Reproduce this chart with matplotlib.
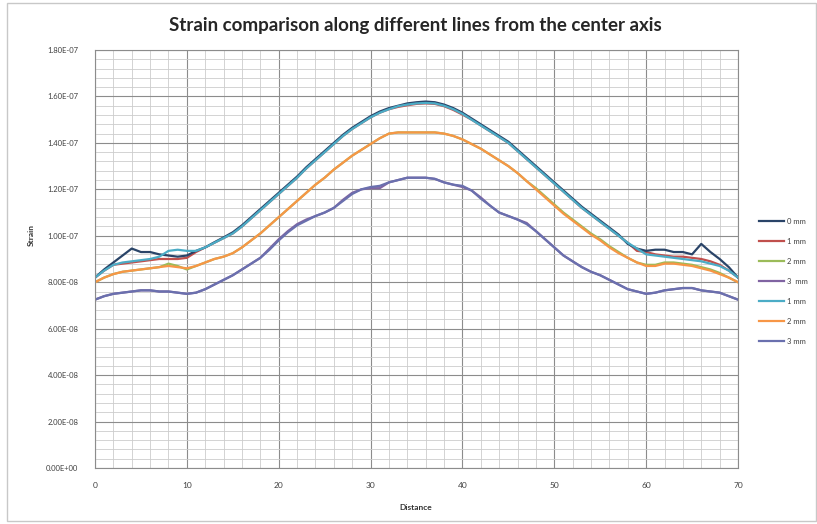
import numpy as np
import matplotlib
matplotlib.use("Agg")
import matplotlib.pyplot as plt
from matplotlib.ticker import MultipleLocator, FuncFormatter
from matplotlib.patches import Rectangle

plt.rcParams['font.family'] = ['Lato', 'DejaVu Sans']

# ---- data (strain values in units of 1e-8) ----
distance = list(range(0, 71))

s0mm = [8.2, 8.55, 8.85, 9.15, 9.45, 9.3, 9.3, 9.2, 9.15, 9.1, 9.15, 9.35, 9.5, 9.72, 9.93, 10.15,
        10.45, 10.8, 11.15, 11.5, 11.85, 12.2, 12.55, 12.95, 13.3, 13.65, 14.0, 14.35, 14.65, 14.9,
        15.15, 15.35, 15.5, 15.6, 15.7, 15.75, 15.78, 15.75, 15.65, 15.5, 15.3, 15.05, 14.8,
        14.55, 14.3, 14.05, 13.7, 13.35, 13.0, 12.65, 12.3, 11.95, 11.6, 11.25, 10.95, 10.65, 10.35,
        10.05, 9.65, 9.45, 9.35, 9.4, 9.4, 9.3, 9.3, 9.2, 9.65, 9.3, 9.0, 8.65, 8.2]
s1mm_a = [8.2, 8.5, 8.75, 8.8, 8.85, 8.9, 8.95, 9.0, 9.0, 9.0, 9.05, 9.3, 9.5, 9.7, 9.9, 10.1,
          10.4, 10.75, 11.1, 11.45, 11.8, 12.15, 12.5, 12.9, 13.25, 13.6, 13.95, 14.3, 14.6, 14.85,
          15.1, 15.3, 15.45, 15.55, 15.62, 15.68, 15.7, 15.68, 15.58, 15.42, 15.22, 15.0, 14.75,
          14.5, 14.25, 14.0, 13.65, 13.3, 12.95, 12.6, 12.25, 11.9, 11.55, 11.2, 10.9, 10.6, 10.3,
          10.0, 9.7, 9.35, 9.3, 9.2, 9.15, 9.1, 9.1, 9.05, 9.0, 8.9, 8.75, 8.5, 8.2]
s2mm_a = [8.0, 8.2, 8.35, 8.45, 8.5, 8.55, 8.6, 8.65, 8.8, 8.7, 8.55, 8.7, 8.85, 9.0, 9.1, 9.25,
          9.5, 9.8, 10.1, 10.45, 10.8, 11.15, 11.5, 11.85, 12.2, 12.5, 12.85, 13.15, 13.45, 13.7,
          13.95, 14.2, 14.4, 14.45, 14.45, 14.45, 14.45, 14.45, 14.4, 14.3, 14.15, 13.95, 13.75,
          13.5, 13.25, 13.0, 12.7, 12.35, 12.05, 11.7, 11.35, 11.0, 10.7, 10.4, 10.1, 9.85, 9.55,
          9.3, 9.05, 8.85, 8.75, 8.75, 8.85, 8.85, 8.8, 8.75, 8.65, 8.55, 8.4, 8.2, 8.0]
s3mm_a = [7.25, 7.4, 7.5, 7.55, 7.6, 7.65, 7.65, 7.6, 7.6, 7.55, 7.5, 7.55, 7.7, 7.9, 8.1, 8.3,
          8.55, 8.8, 9.05, 9.45, 9.85, 10.2, 10.5, 10.7, 10.85, 11.0, 11.2, 11.55, 11.85, 12.0,
          12.05, 12.05, 12.3, 12.4, 12.5, 12.5, 12.5, 12.45, 12.3, 12.2, 12.1, 11.95, 11.65, 11.3,
          11.0, 10.85, 10.7, 10.55, 10.2, 9.85, 9.5, 9.15, 8.9, 8.65, 8.45, 8.3, 8.1, 7.9, 7.7,
          7.6, 7.5, 7.55, 7.65, 7.7, 7.75, 7.75, 7.65, 7.6, 7.55, 7.4, 7.25]
s1mm_b = [8.2, 8.5, 8.75, 8.85, 8.9, 8.95, 9.0, 9.1, 9.35, 9.4, 9.35, 9.35, 9.5, 9.7, 9.9, 10.1,
          10.4, 10.75, 11.1, 11.45, 11.8, 12.15, 12.5, 12.9, 13.25, 13.6, 13.95, 14.3, 14.6, 14.85,
          15.1, 15.3, 15.45, 15.58, 15.65, 15.7, 15.72, 15.7, 15.6, 15.45, 15.25, 15.0, 14.75,
          14.5, 14.25, 14.0, 13.65, 13.3, 12.95, 12.6, 12.25, 11.9, 11.55, 11.2, 10.9, 10.6, 10.3,
          10.0, 9.7, 9.45, 9.2, 9.15, 9.1, 9.05, 9.0, 8.95, 8.9, 8.8, 8.7, 8.5, 8.2]
s2mm_b = [8.0, 8.2, 8.35, 8.45, 8.5, 8.55, 8.6, 8.65, 8.7, 8.65, 8.6, 8.7, 8.85, 9.0, 9.1, 9.25,
          9.5, 9.8, 10.1, 10.45, 10.8, 11.15, 11.5, 11.85, 12.2, 12.5, 12.85, 13.15, 13.45, 13.7,
          13.95, 14.2, 14.4, 14.45, 14.45, 14.45, 14.45, 14.45, 14.4, 14.3, 14.15, 13.95, 13.75,
          13.5, 13.25, 13.0, 12.7, 12.35, 12.0, 11.65, 11.3, 10.95, 10.65, 10.35, 10.05, 9.8, 9.5,
          9.25, 9.05, 8.85, 8.7, 8.7, 8.8, 8.8, 8.75, 8.7, 8.6, 8.5, 8.35, 8.2, 8.0]
s3mm_b = [7.25, 7.4, 7.5, 7.55, 7.6, 7.65, 7.65, 7.6, 7.6, 7.55, 7.5, 7.55, 7.7, 7.9, 8.1, 8.3,
          8.55, 8.8, 9.05, 9.4, 9.8, 10.15, 10.45, 10.65, 10.85, 11.0, 11.2, 11.5, 11.8, 12.0,
          12.1, 12.15, 12.3, 12.4, 12.5, 12.5, 12.5, 12.45, 12.3, 12.2, 12.15, 11.95, 11.6, 11.3,
          11.0, 10.85, 10.7, 10.5, 10.2, 9.85, 9.5, 9.15, 8.9, 8.65, 8.45, 8.3, 8.1, 7.9, 7.7,
          7.6, 7.5, 7.55, 7.65, 7.7, 7.75, 7.75, 7.65, 7.6, 7.55, 7.4, 7.25]

labels = ["0 mm", "1 mm", "2 mm", "3  mm", "1 mm", "2 mm", "3 mm"]
series = [s0mm, s1mm_a, s2mm_a, s3mm_a, s1mm_b, s2mm_b, s3mm_b]
colors = ["#2A4468", "#C0504D", "#9BBB59", "#8064A2", "#4BACC6", "#F79646", "#6A70AE"]
zorders = [2.45, 2.1, 2.3, 2.1, 2.5, 2.4, 2.2]
UNIT = 1e-8

W, H = 817, 524
fig = plt.figure(figsize=(W / 100, H / 100), dpi=100)
fig.patches.append(Rectangle((7 / W, 1 - 521 / H), 809 / W, 518 / H, transform=fig.transFigure,
                             fill=False, edgecolor="#c8c8c8", linewidth=1.0))

ax = fig.add_axes([95 / W, 1 - 468 / H, (738 - 95) / W, (468 - 50) / H])

for ys, lab, c, z in zip(series, labels, colors, zorders):
    ax.plot(distance, np.array(ys) * UNIT, color=c, lw=1.6, label=lab, zorder=z,
            solid_joinstyle="round")

ax.set_xlim(0, 70)
ax.set_ylim(0, 1.8e-7)
ax.xaxis.set_major_locator(MultipleLocator(10))
ax.xaxis.set_minor_locator(MultipleLocator(2))
ax.yaxis.set_major_locator(MultipleLocator(2e-8))
ax.yaxis.set_minor_locator(MultipleLocator(4e-9))
ax.yaxis.set_major_formatter(FuncFormatter(lambda v, p: f"{v:.2E}"))
ax.grid(which="major", color="#8c8c8c", lw=0.8)
ax.grid(which="minor", color="#cccccc", lw=0.6)
ax.set_axisbelow(True)
for s in ax.spines.values():
    s.set_color("#8c8c8c")
    s.set_linewidth(0.8)
ax.tick_params(which="both", length=0)
ax.tick_params(axis="y", labelsize=5.5, labelcolor="#404040", pad=12)
ax.tick_params(axis="x", labelsize=6, labelcolor="#404040", pad=10)

fig.text(415 / W, 1 - 26 / H, "Strain comparison along different lines from the center axis",
         ha="center", va="center", fontsize=13.5, fontweight="bold", color="#262626")
fig.text(416 / W, 1 - 507 / H, "Distance", ha="center", va="center", fontsize=6,
         fontweight="bold", color="#333333")
fig.text(31 / W, 1 - 235 / H, "Strain", ha="center", va="center", rotation=90, fontsize=6,
         fontweight="bold", color="#333333")

leg = ax.legend(loc="upper left", bbox_to_anchor=(755 / W, 1 - 214 / H),
                bbox_transform=fig.transFigure, frameon=False, fontsize=5.5,
                handlelength=3.3, handletextpad=0.4, labelspacing=1.7, borderpad=0)
for t in leg.get_texts():
    t.set_color("#404040")

fig.savefig("out.png", dpi=100)
